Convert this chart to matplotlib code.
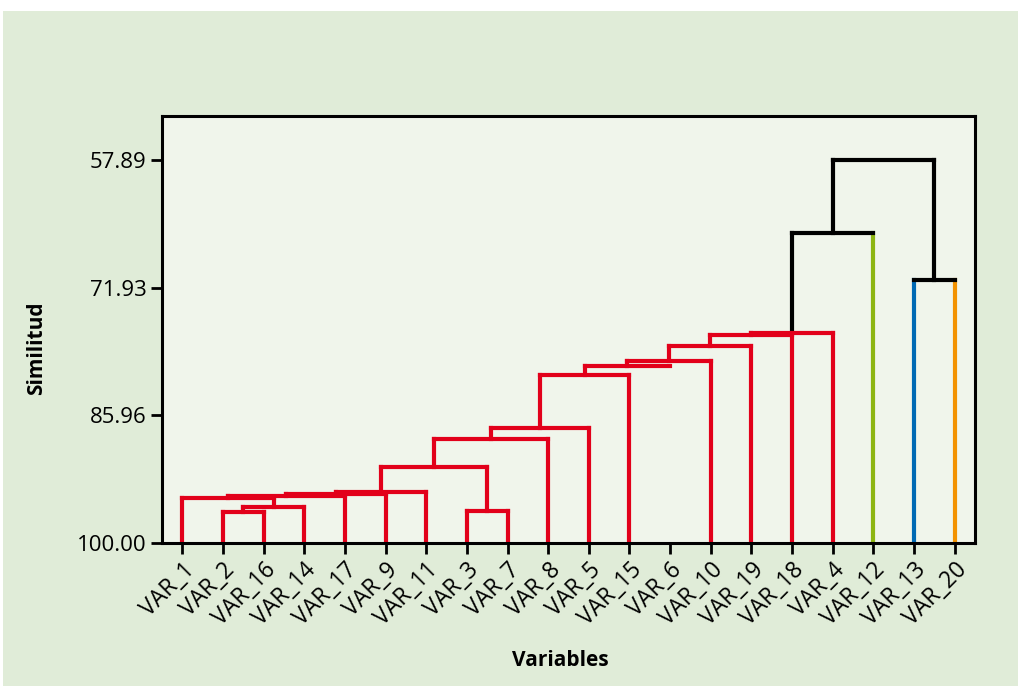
import matplotlib
matplotlib.use('Agg')
import matplotlib.pyplot as plt
from matplotlib.patches import Rectangle

plt.rcParams['font.family'] = ['Open Sans', 'DejaVu Sans']

# leaf order along the x axis
labels = ['VAR_1', 'VAR_2', 'VAR_16', 'VAR_14', 'VAR_17', 'VAR_9', 'VAR_11', 'VAR_3', 'VAR_7', 'VAR_8',
          'VAR_5', 'VAR_15', 'VAR_6', 'VAR_10', 'VAR_19', 'VAR_18', 'VAR_4', 'VAR_12', 'VAR_13', 'VAR_20']

# merges: left / right member (leaf name or index of an earlier merge) and similarity level
merge_left = ['VAR_2', 0, 'VAR_1', 2, 3, 4, 'VAR_3', 5, 7, 8, 9, 10, 11, 12, 13, 14, 15, 'VAR_13', 16]
merge_right = ['VAR_16', 'VAR_14', 1, 'VAR_17', 'VAR_9', 'VAR_11', 'VAR_7', 6, 'VAR_8', 'VAR_5',
               'VAR_15', 'VAR_6', 'VAR_10', 'VAR_19', 'VAR_18', 'VAR_4', 'VAR_12', 'VAR_20', 17]
similarity = [96.59, 96.09, 95.10, 94.83, 94.66, 94.44, 96.50, 91.58, 88.60, 87.36,
              81.56, 80.51, 80.02, 78.37, 77.15, 76.93, 65.89, 71.02, 57.89]
yticks = [100.00, 85.96, 71.93, 57.89]

RED = '#E2001A'
merge_colors = [RED] * 16 + ['black'] * 3
leaf_colors = {name: RED for name in labels}
leaf_colors['VAR_12'] = '#8DB512'
leaf_colors['VAR_13'] = '#0069B4'
leaf_colors['VAR_20'] = '#F39200'
hidden = ['VAR_6']   # stem not drawn in the original

fig = plt.figure(figsize=(10.18, 6.86), dpi=100)
fig.patch.set_facecolor('white')
fig.patches.append(Rectangle((3 / 1018, 0), 1, 1 - 11 / 686, transform=fig.transFigure,
                             facecolor='#E0ECD8', edgecolor='none', zorder=-10))

ax = fig.add_axes([162 / 1018, 1 - 543 / 686, (975 - 162) / 1018, (543 - 116) / 686])
ax.set_facecolor('#F0F5EB')

lw = 3.0
pos = {name: i + 1 for i, name in enumerate(labels)}
height = {name: 100.0 for name in labels}
for k in range(len(similarity)):
    l, r = merge_left[k], merge_right[k]
    s = similarity[k]
    c = merge_colors[k]
    for child in (l, r):
        if child in hidden:
            continue
        col = leaf_colors[child] if isinstance(child, str) else c
        ax.plot([pos[child], pos[child]], [height[child], s], color=col, lw=lw,
                solid_capstyle='projecting', zorder=2)
    ax.plot([pos[l], pos[r]], [s, s], color=c, lw=lw, solid_capstyle='projecting', zorder=3)
    pos[k] = (pos[l] + pos[r]) / 2
    height[k] = s

ax.set_xlim(0.5, len(labels) + 0.5)
ax.set_ylim(100, 53.0)
ax.set_xticks(range(1, len(labels) + 1))
ax.set_xticklabels(labels, rotation=45, ha='right', va='top', rotation_mode='anchor', fontsize=16.5)
ax.set_yticks(yticks)
ax.set_yticklabels(['%.2f' % v for v in yticks], fontsize=16)
ax.tick_params(length=8, width=2, direction='out', pad=3)
for sp in ax.spines.values():
    sp.set_linewidth(2.2)
    sp.set_zorder(5)

fig.text(560 / 1018, 1 - 660 / 686, 'Variables', ha='center', va='center', fontsize=15, fontweight='bold')
fig.text(37 / 1018, 1 - 348 / 686, 'Similitud', ha='center', va='center', rotation=90,
         fontsize=15, fontweight='bold')

fig.savefig('out.png', dpi=100)
